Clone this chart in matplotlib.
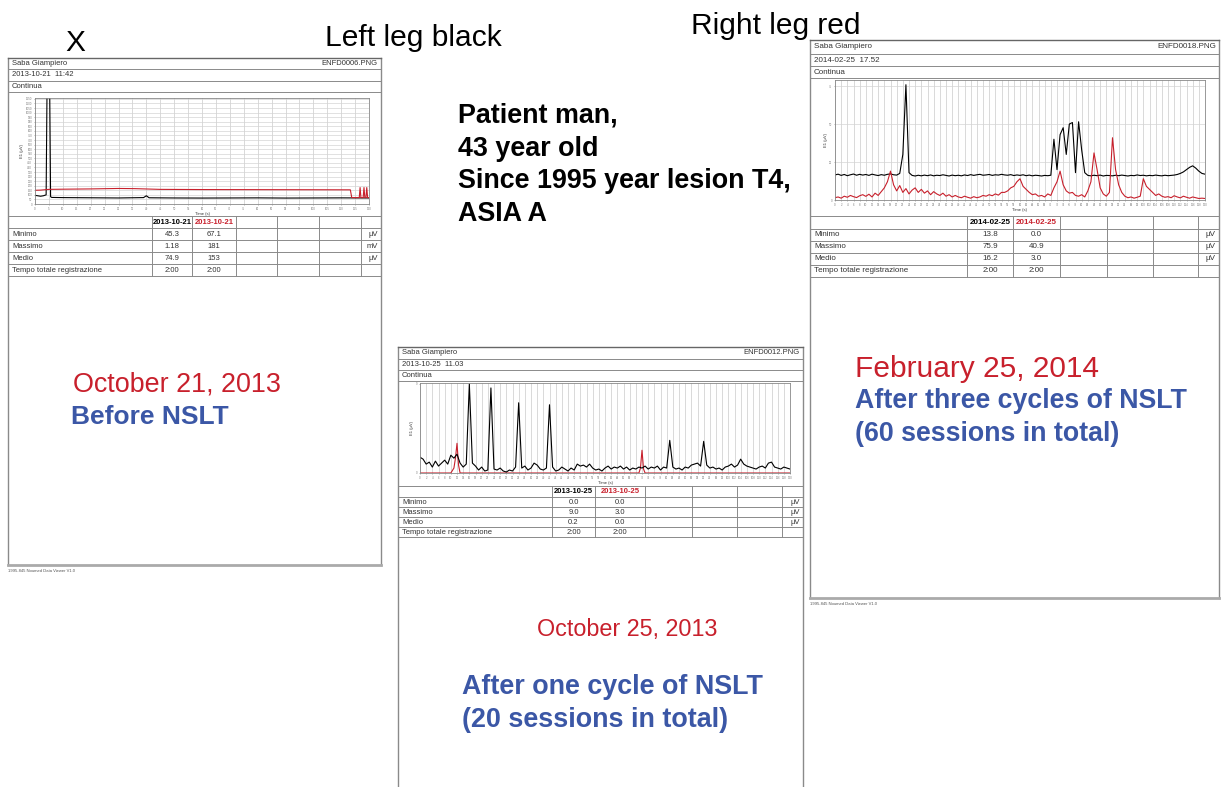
import numpy as np
import matplotlib.pyplot as plt

plt.rcParams['font.family'] = ['Liberation Sans', 'DejaVu Sans']

W, H = 1223, 787
RED = '#c8202c'
BLUE = '#3b57a6'
FRAME = '#8a8a8a'
INK = '#333333'

# ---- report 1: 2013-10-21 (before NSLT), sparse points
r1_black_t = [0, 1, 2, 3, 4, 4.3, 5.3, 5.6, 6, 10, 20, 30, 39, 40, 41, 50, 60, 70, 80, 90, 100, 110, 120]
r1_black_v = [95, 90, 85, 90, 100, 1180, 1180, 80, 72, 70, 68, 66, 70, 90, 68, 66, 65, 66, 67, 65, 66, 67, 66]
r1_red_t = [0, 2, 5, 10, 20, 30, 36, 45, 60, 80, 100, 113.3, 113.8, 116.5, 116.8, 117.1,
            117.9, 118.2, 118.5, 118.9, 119.2, 119.5, 120]
r1_red_v = [150, 152, 160, 162, 165, 170, 168, 160, 158, 157, 156, 155, 70, 70, 180, 70,
            70, 180, 70, 70, 180, 70, 70]

# ---- report 2: 2013-10-25, one value per second
r2_black = [1.6, 1.4, 0.9, 1.1, 0.6, 1.2, 0.7, 1.0, 1.3, 0.9,
            1.8, 1.5, 1.9, 1.0, 0.6, 0.9, 9.0, 1.0, 0.7, 0.3,
            0.6, 0.2, 0.3, 8.6, 0.4, 0.3, 0.5, 0.2, 0.1, 0.3,
            0.2, 0.6, 7.1, 0.5, 0.7, 0.3, 0.5, 1.0, 0.8, 0.4,
            0.3, 0.5, 6.9, 0.6, 0.2, 0.3, 0.6, 0.4, 0.2, 0.5,
            0.3, 0.9, 0.7, 0.8, 0.6, 0.9, 0.5, 0.3, 0.4, 0.2,
            0.5, 0.7, 0.4, 0.6, 0.5, 0.7, 0.4, 0.6, 0.3, 0.5,
            0.4, 0.6, 0.5, 0.7, 0.4, 0.6, 0.5, 0.7, 0.3, 0.6,
            0.5, 3.3, 0.6, 0.4, 0.5, 0.3, 0.6, 0.5, 0.8, 0.9,
            1.0, 0.7, 3.2, 0.8, 0.5, 0.6, 0.4, 0.5, 0.3, 0.6,
            0.7, 0.9, 0.6, 0.8, 1.4, 0.9, 0.7, 0.6, 0.5, 0.4,
            0.6, 0.7, 0.5, 1.0, 1.1, 0.6, 0.5, 0.4, 0.6, 0.5, 0.4]
r2_red_t = [0, 10, 11, 11.5, 12, 12.5, 13, 71, 71.5, 72, 72.5, 73, 120]
r2_red_v = [0, 0, 0.5, 1.5, 3.0, 0.8, 0, 0, 0.5, 2.3, 0.4, 0, 0]

# ---- report 3: 2014-02-25, one value per second
r3_black = [16.5, 17.0, 16.2, 16.8, 16.0, 16.6, 17.1, 16.3, 16.9, 16.4,
            16.8, 16.2, 17.0, 16.5, 16.1, 16.7, 16.3, 16.9, 17.2, 16.6,
            16.4, 17.5, 30.0, 75.9, 18.0, 16.2, 15.8, 16.3, 15.9, 16.4,
            16.0, 16.5, 15.9, 16.3, 16.1, 16.6, 16.2, 15.8, 16.4, 16.0,
            16.3, 15.9, 16.5, 16.1, 16.7, 16.2, 16.6, 16.9, 16.3, 16.5,
            16.8, 16.2, 16.6, 16.4, 16.9, 16.5, 16.3, 16.7, 16.1, 16.5,
            16.2, 16.6, 16.0, 16.4, 15.9, 16.3, 16.1, 15.8, 16.2, 16.0,
            16.3, 40.0, 20.0, 43.0, 47.6, 30.0, 50.0, 51.0, 18.0, 51.5,
            33.0, 18.0, 16.2, 15.9, 16.3, 16.0, 16.4, 15.8, 16.2, 16.1,
            15.9, 16.3, 16.0, 16.4, 16.1, 15.8, 16.2, 16.0, 16.5, 16.1,
            16.3, 15.9, 16.2, 16.0, 16.4, 16.1, 15.9, 16.3, 16.0, 16.2,
            16.4, 16.8, 17.5, 18.5, 20.0, 21.5, 22.5, 21.0, 19.0, 17.5, 17.0]
r3_red = [1.5, 2.0, 1.2, 2.5, 1.8, 3.0, 2.2, 1.6, 2.8, 3.5,
          2.4, 3.8, 2.0, 4.5, 3.0, 5.5, 8.0, 12.0, 19.0, 10.0,
          6.0, 9.5, 5.0, 7.5, 4.0, 6.5, 8.0, 5.0, 7.0, 4.5,
          6.0, 3.5, 5.5, 4.0, 3.0, 4.5, 2.5, 3.5, 2.0, 3.0,
          2.0, 1.5, 2.5, 1.8, 1.2, 2.2, 1.5, 2.0, 3.0, 2.5,
          3.5, 2.8, 4.0, 3.2, 5.0, 5.0, 6.0, 8.0, 9.0, 12.0,
          14.0, 9.0, 7.0, 5.0, 3.5, 4.0, 2.5, 3.0, 2.0, 4.0,
          3.0, 8.0, 12.0, 19.0, 10.0, 6.0, 4.5, 5.0, 3.0, 2.5,
          3.5, 2.0, 6.0, 12.0, 31.0, 20.0, 8.0, 4.0, 2.5, 5.0,
          41.0, 20.0, 10.0, 5.0, 2.5, 1.5, 2.0, 1.2, 1.8, 2.5,
          14.0, 9.0, 7.0, 5.0, 3.0, 4.0, 2.5, 1.8, 2.2, 1.5,
          2.8, 2.0, 1.4, 2.5, 1.8, 1.2, 2.0, 1.5, 1.0, 1.2, 1.0]

# ---- tables
row_names = ['Minimo', 'Massimo', 'Medio', 'Tempo totale registrazione']
r1_dates = ['2013-10-21', '2013-10-21']
r1_cells = [['45.3', '67.1'], ['1.18', '181'], ['74.9', '153'], ['2:00', '2:00']]
r1_units = ['µV', 'mV', 'µV', '']
r2_dates = ['2013-10-25', '2013-10-25']
r2_cells = [['0.0', '0.0'], ['9.0', '3.0'], ['0.2', '0.0'], ['2:00', '2:00']]
r2_units = ['µV', 'µV', 'µV', '']
r3_dates = ['2014-02-25', '2014-02-25']
r3_cells = [['13.8', '0.0'], ['75.9', '40.9'], ['16.2', '3.0'], ['2:00', '2:00']]
r3_units = ['µV', 'µV', 'µV', '']


def rect(x0, y0, x1, y1):
    return [x0 / W, 1 - y1 / H, (x1 - x0) / W, (y1 - y0) / H]


def label(ax, x, yc, s, size, **kw):
    # yc is the centre of the capitals, in pixels
    ax.text(x, yc + 0.36 * size * 100 / 72, s, fontsize=size, va='baseline', **kw)


def report(bg, left, right, top, bottom, heads, name, stamp, fname, rows_y, cols,
           dates, cells, units, fs=5.5):
    bot = bottom if bottom is not None else H
    bg.plot([left, left], [top, bot], color=FRAME, lw=1)
    bg.plot([right, right], [top, bot], color=FRAME, lw=1)
    bg.plot([left, right], [top, top], color='#666666', lw=1)
    if bottom is not None:
        bg.plot([left, right], [bottom, bottom], color='#aaaaaa', lw=2)
    for y in heads:
        bg.plot([left, right], [y, y], color=FRAME, lw=0.7)
    hy = [top] + heads
    for txt, i in [(name, 0), (stamp, 1), ('Continua', 2)]:
        bg.text(left + 4, (hy[i] + hy[i + 1]) / 2, txt, fontsize=fs, color=INK, va='center')
    bg.text(right - 3, (hy[0] + hy[1]) / 2, fname, fontsize=fs, color=INK, va='center', ha='right')

    for y in rows_y:
        bg.plot([left, right], [y, y], color=FRAME, lw=0.7)
    for x in cols:
        bg.plot([x, x], [rows_y[0], rows_y[-1]], color=FRAME, lw=0.7)
    mids = [(rows_y[i] + rows_y[i + 1]) / 2 for i in range(len(rows_y) - 1)]
    c1 = (cols[0] + cols[1]) / 2
    c2 = (cols[1] + cols[2]) / 2
    bg.text(c1, mids[0], dates[0], fontsize=fs, color='black', weight='bold', ha='center', va='center')
    bg.text(c2, mids[0], dates[1], fontsize=fs, color=RED, weight='bold', ha='center', va='center')
    for i, nm in enumerate(row_names):
        y = mids[i + 1]
        bg.text(left + 4, y, nm, fontsize=fs, color=INK, va='center')
        bg.text(c1, y, cells[i][0], fontsize=fs, color=INK, va='center', ha='center')
        bg.text(c2, y, cells[i][1], fontsize=fs, color=INK, va='center', ha='center')
        bg.text(right - 3, y, units[i], fontsize=fs, color=INK, va='center', ha='right')
    if bottom is not None:
        bg.text(left, bottom + 6, '1995-845 Noumed Data Viewer V1.0', fontsize=3, color='#555555', va='center')


def trace_axes(fig, box, xmax, ylim, xstep, yticks, ygrid):
    ax = fig.add_axes(rect(*box))
    ax.set_xlim(0, xmax)
    ax.set_ylim(*ylim)
    xt = np.arange(0, xmax + 0.1, xstep)
    ax.set_xticks(xt)
    ax.set_xticklabels([str(int(v)) for v in xt])
    ax.set_yticks(yticks)
    ax.set_yticklabels([str(int(v)) for v in yticks])
    ax.grid(True, axis='x', color='#cfcfcf', lw=0.55)
    if ygrid:
        ax.grid(True, axis='y', color='#d4d4d4', lw=0.5)
    ax.tick_params(labelsize=2, length=1, width=0.4, pad=1, colors='#777777')
    for s in ax.spines.values():
        s.set_color('#888888')
        s.set_linewidth(0.6)
    ax.set_xlabel('Time (s)', fontsize=3, labelpad=1, color=INK)
    ax.set_ylabel('E1 (µV)', fontsize=3, labelpad=1, color=INK)
    ax.set_axisbelow(True)
    return ax


fig = plt.figure(figsize=(12.23, 7.87), dpi=100)
bg = fig.add_axes([0, 0, 1, 1])
bg.set_xlim(0, W)
bg.set_ylim(H, 0)
bg.axis('off')

# report frames and tables
report(bg, 8, 381, 58, 565, [69, 81, 92], 'Saba Giampiero', '2013-10-21  11:42', 'ENFD0006.PNG',
       [216, 228, 240, 252, 264, 276], [152, 192, 236, 277, 319, 361],
       r1_dates, r1_cells, r1_units)
report(bg, 398, 803, 347, None, [359, 370, 381], 'Saba Giampiero', '2013-10-25  11.03', 'ENFD0012.PNG',
       [486, 497, 507, 517, 527, 537], [552, 595, 645, 692, 737, 782],
       r2_dates, r2_cells, r2_units)
report(bg, 810, 1219, 40, 598, [54, 66, 78], 'Saba Giampiero', '2014-02-25  17.52', 'ENFD0018.PNG',
       [216, 229, 241, 253, 265, 277], [967, 1013, 1060, 1107, 1153, 1198],
       r3_dates, r3_cells, r3_units, fs=5.8)

# traces
ax1 = trace_axes(fig, (35, 98, 369, 204), 120, (0, 1160), 5, np.arange(0, 1151, 50), True)
ax1.plot(r1_black_t, r1_black_v, color='black', lw=0.8)
ax1.plot(r1_red_t, r1_red_v, color=RED, lw=0.8)

sec = np.arange(121)
ax2 = trace_axes(fig, (420, 383, 790, 473), 120, (0, 9.1), 2, [0, 9], False)
ax2.plot(r2_red_t, r2_red_v, color=RED, lw=0.8)
ax2.plot(sec, r2_black, color='black', lw=0.8)

ax3 = trace_axes(fig, (835, 80, 1205, 200), 120, (0, 79), 2, [0, 25, 50, 75], True)
ax3.plot(sec, r3_black, color='black', lw=0.8)
ax3.plot(sec, r3_red, color=RED, lw=0.8)

# annotations
label(bg, 65, 40, 'X', 21.5, color='black')
label(bg, 325, 35, 'Left leg black', 21.6, color='black')
label(bg, 691, 23, 'Right leg red', 21.5, color='black')

for y, s in zip([113, 146, 178, 211],
                ['Patient man,', '43 year old', 'Since 1995 year lesion T4,', 'ASIA A']):
    label(bg, 458, y, s, 19.4, color='black', weight='bold')

label(bg, 73, 382, 'October 21, 2013', 19.4, color=RED)
label(bg, 71, 414, 'Before NSLT', 19, color=BLUE, weight='bold')

label(bg, 537, 628, 'October 25, 2013', 16.8, color=RED)
label(bg, 462, 684, 'After one cycle of NSLT', 19.4, color=BLUE, weight='bold')
label(bg, 462, 717, '(20 sessions in total)', 19.4, color=BLUE, weight='bold')

label(bg, 855, 366, 'February 25, 2014', 21.5, color=RED)
label(bg, 855, 398, 'After three cycles of NSLT', 19.3, color=BLUE, weight='bold')
label(bg, 855, 431, '(60 sessions in total)', 19.3, color=BLUE, weight='bold')

fig.savefig('out.png', dpi=100, facecolor='white')
